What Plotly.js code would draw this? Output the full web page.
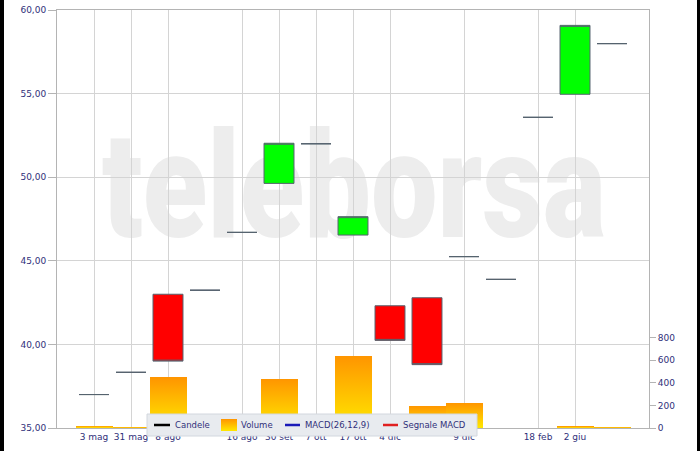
<!DOCTYPE html>
<html>
<head>
<meta charset="utf-8">
<script src="https://cdn.plot.ly/plotly-3.0.1.min.js"></script>
<style>html,body{margin:0;padding:0;background:#fff;}#chart{width:700px;height:451px;}</style>
</head>
<body>
<div id="chart"></div>
<script>
// ---- data ----
const slots      = [1, 2, 3, 4, 5, 6, 7, 8, 9, 10, 11, 12, 13, 14, 15];
const opens      = [37.00, 38.33, 43.00, 43.24, 46.70, 49.63, 52.00, 46.54, 42.31, 42.79, 45.25, 43.89, 53.58, 54.96, 57.99];
const closes     = [37.00, 38.33, 39.00, 43.24, 46.70, 52.03, 52.00, 47.64, 40.24, 38.79, 45.25, 43.89, 53.58, 59.08, 57.99];
const volumes    = [18, 8, 449, 0, 0, 437, 0, 638, 40, 198, 224, 0, 4, 15, 8];
const tickSlots  = [1, 2, 3, 5, 6, 7, 8, 9, 11, 13, 14];
const tickLabels = ['3 mag', '31 mag', '8 ago', '16 ago', '30 set', '7 ott', '17 ott', '4 dic', '9 dic', '18 feb', '2 giu'];
const priceTicks = [35, 40, 45, 50, 55, 60];
const volTicks   = [0, 200, 400, 600, 800];
const legendNames = ['Candele', 'Volume', 'MACD(26,12,9)', 'Segnale MACD'];

const highs = opens.map((o, i) => Math.max(o, closes[i]));
const lows  = opens.map((o, i) => Math.min(o, closes[i]));

// ---- geometry helpers (pixel -> paper) ----
const ML = 57, MR = 51, MT = 10, MB = 23, W = 700, H = 451;
const PW = W - ML - MR, PH = H - MT - MB;
const px = x => (x - ML) / PW;
const py = y => (H - MB - y) / PH;

const FONT = 'DejaVu Sans, Verdana, sans-serif';
const TXT = '#30307A';
const GRID = '#D4D4D4';
const FRAME = '#B4B4B4';

const data = [
  {
    type: 'bar', x: slots, y: volumes, yaxis: 'y2', width: 1,
    marker: { color: '#FFB000', line: { width: 0 } },
    hoverinfo: 'skip'
  },
  {
    type: 'candlestick', x: slots, open: opens, high: highs, low: lows, close: closes,
    increasing: { fillcolor: '#00FF00', line: { color: '#56636F', width: 1 } },
    decreasing: { fillcolor: '#FF0000', line: { color: '#56636F', width: 1 } },
    whiskerwidth: 0, hoverinfo: 'skip'
  }
];

// custom legend
const legSym = [
  { kind: 'line', x0: 154, x1: 170, color: '#000000' },
  { kind: 'rect', x0: 221, x1: 237, color: '#FFB000' },
  { kind: 'line', x0: 285, x1: 300, color: '#1A1AB8' },
  { kind: 'line', x0: 383, x1: 398, color: '#E02020' }
];
const legTextX = [175, 241, 305, 403];
const LEGY = 425;

const shapes = [
  // black strips at the picture edges
  { type: 'rect', xref: 'paper', yref: 'paper', x0: px(0), x1: px(4), y0: py(451), y1: py(0), fillcolor: '#000', line: { width: 0 }, layer: 'above' },
  { type: 'rect', xref: 'paper', yref: 'paper', x0: px(697), x1: px(700), y0: py(451), y1: py(0), fillcolor: '#000', line: { width: 0 }, layer: 'above' },
  // legend box
  { type: 'rect', xref: 'paper', yref: 'paper', x0: px(147), x1: px(477), y0: py(436), y1: py(414), fillcolor: '#E8EBEF', line: { color: '#D2D7DE', width: 1 }, layer: 'above' }
];
legSym.forEach(s => {
  if (s.kind === 'line') {
    shapes.push({ type: 'line', xref: 'paper', yref: 'paper', x0: px(s.x0), x1: px(s.x1), y0: py(LEGY), y1: py(LEGY), line: { color: s.color, width: 2.5 }, layer: 'above' });
  } else {
    shapes.push({ type: 'rect', xref: 'paper', yref: 'paper', x0: px(s.x0), x1: px(s.x1), y0: py(431), y1: py(419), fillcolor: s.color, line: { width: 0 }, layer: 'above' });
  }
});
const SWATCH_INDEX = 4;

const WM_CX = 354, WM_SIZE = 148, WM_SX = 0.8;
const annotations = [
  { text: 'teleborsa', xref: 'paper', yref: 'paper', x: px(WM_CX), y: py(186), xanchor: 'center', yanchor: 'middle',
    showarrow: false, font: { family: 'Roboto, Liberation Sans, Arial, sans-serif', weight: 900, size: WM_SIZE, color: '#EDEDED' } }
];
legendNames.forEach((n, i) => {
  annotations.push({ text: n, xref: 'paper', yref: 'paper', x: px(legTextX[i] - 2), y: py(LEGY), xanchor: 'left', yanchor: 'middle',
    showarrow: false, font: { family: FONT, size: 8.5, color: TXT } });
});

const layout = {
  width: W, height: H,
  margin: { l: ML, r: MR, t: MT, b: MB, pad: 0 },
  paper_bgcolor: '#FFFFFF', plot_bgcolor: '#FFFFFF',
  showlegend: false,
  separators: ',.',
  boxgap: 0.19, boxgroupgap: 0,
  bargap: 0,
  font: { family: FONT, size: 9, color: TXT },
  xaxis: {
    range: [0, 16], tickmode: 'array', tickvals: tickSlots, ticktext: tickLabels,
    showgrid: true, gridcolor: GRID, gridwidth: 1, zeroline: false,
    showline: true, mirror: true, linecolor: FRAME, linewidth: 1,
    ticks: '', rangeslider: { visible: false },
    tickfont: { family: FONT, size: 9, color: TXT }
  },
  yaxis: {
    range: [35, 60], tickmode: 'array', tickvals: priceTicks, tickformat: '.2f',
    showgrid: true, gridcolor: GRID, zeroline: false,
    showline: true, mirror: true, linecolor: FRAME, linewidth: 1,
    ticks: 'outside', ticklen: 8, tickcolor: FRAME,
    tickfont: { family: FONT, size: 9, color: TXT }
  },
  yaxis2: {
    overlaying: 'y', side: 'right', range: [0, 3703], tickmode: 'array', tickvals: volTicks,
    showgrid: false, zeroline: false, showline: false,
    ticks: 'outside', ticklen: 6, tickcolor: FRAME,
    tickfont: { family: FONT, size: 9, color: TXT }
  },
  shapes: shapes,
  annotations: annotations
};

const gd = document.getElementById('chart');
Plotly.newPlot(gd, data, layout, { staticPlot: true, displayModeBar: false }).then(() => {
  const ns = 'http://www.w3.org/2000/svg';
  const mainSvg = gd.querySelector('svg.main-svg');
  let defs = mainSvg.querySelector('defs');
  if (!defs) { defs = document.createElementNS(ns, 'defs'); mainSvg.insertBefore(defs, mainSvg.firstChild); }
  const lg = document.createElementNS(ns, 'linearGradient');
  lg.setAttribute('id', 'volGrad');
  lg.setAttribute('x1', '0'); lg.setAttribute('y1', '0'); lg.setAttribute('x2', '0'); lg.setAttribute('y2', '1');
  [['0', '#FF9500'], ['1', '#FFE800']].forEach(([o, c]) => {
    const st = document.createElementNS(ns, 'stop');
    st.setAttribute('offset', o); st.setAttribute('stop-color', c);
    lg.appendChild(st);
  });
  defs.appendChild(lg);
  gd.querySelectorAll('.barlayer .point path').forEach(p => { p.style.fill = 'url(#volGrad)'; });
  const sw = gd.querySelector('.shapelayer path[data-index="' + SWATCH_INDEX + '"]');
  if (sw) sw.style.fill = 'url(#volGrad)';
  // move watermark behind the plot content and narrow it
  const ann = gd.querySelector('.infolayer .annotation[data-index="0"]');
  const cart = mainSvg.querySelector('.cartesianlayer');
  if (ann && cart) {
    const wrap = document.createElementNS(ns, 'g');
    wrap.setAttribute('transform', 'translate(' + WM_CX + ',0) scale(' + WM_SX + ',1) translate(' + (-WM_CX) + ',0)');
    wrap.appendChild(ann);
    cart.parentNode.insertBefore(wrap, cart);
  }
});
</script>
</body>
</html>
